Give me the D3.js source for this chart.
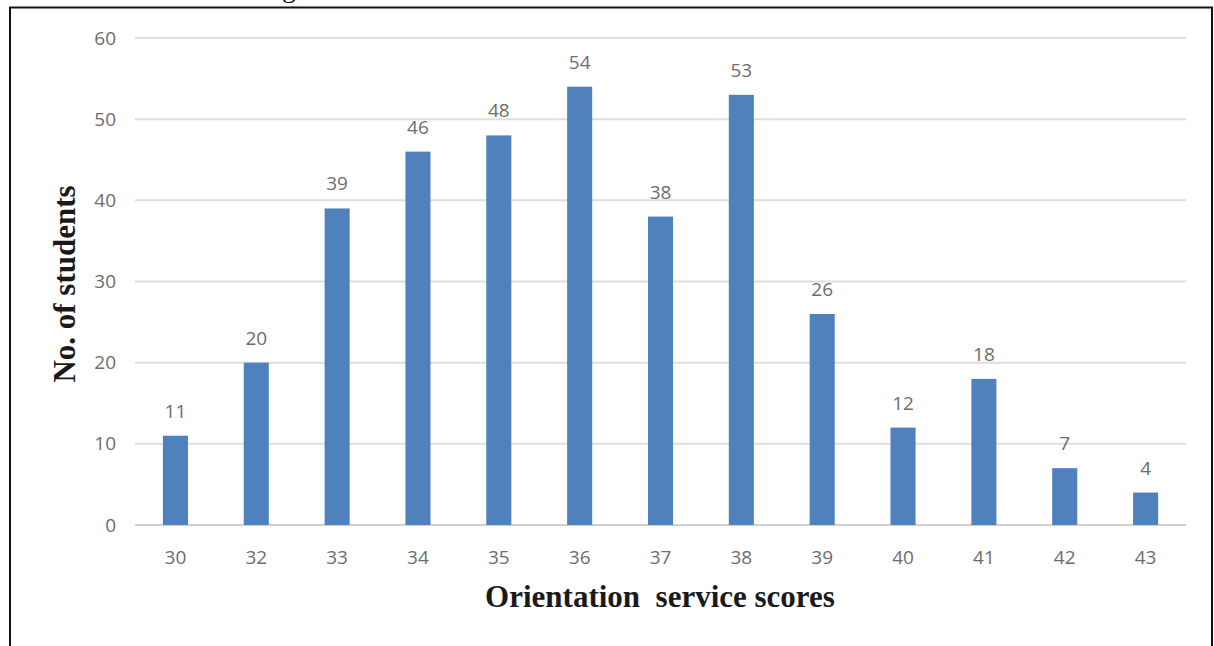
<!DOCTYPE html>
<html>
<head>
<meta charset="utf-8">
<script src="https://cdn.jsdelivr.net/npm/d3@7"></script>
<style>
  body { margin: 0; background: #fff; }
  svg { display: block; }
</style>
</head>
<body>
<svg width="1214" height="646"></svg>
<script>
var scores = ["30","32","33","34","35","36","37","38","39","40","41","42","43"];
var students = [11,20,39,46,48,54,38,53,26,12,18,7,4];
var yTicks = [0,10,20,30,40,50,60];

var svg = d3.select("svg");

// frame around the figure (cut at the bottom)
svg.append("path")
    .attr("d", "M10,646 L10,7.5 L1212,7.5 L1212,646")
    .style("fill", "none")
    .style("stroke", "#111")
    .style("stroke-width", 2);

// bit of caption text cut by the crop
svg.append("text")
    .attr("x", 282)
    .attr("y", -3)
    .attr("font-family", "Liberation Serif, serif")
    .attr("font-size", "28px")
    .attr("fill", "#111")
    .text("g");

var plotLeft = 135, plotRight = 1186, plotTop = 38, plotBottom = 525;
var tickFont = "'Open Sans', sans-serif";
var titleFont = "'Liberation Serif', serif";

var x = d3.scaleBand().domain(scores).range([plotLeft, plotRight]).paddingInner(0.69).paddingOuter(0.345);
var y = d3.scaleLinear().domain([0, 60]).range([plotBottom, plotTop]);

var g = svg.append("g");

// gridlines
g.append("g")
    .selectAll("line")
    .data(yTicks)
    .enter()
    .append("line")
    .attr("x1", plotLeft)
    .attr("x2", plotRight)
    .attr("y1", function(d){ return y(d); })
    .attr("y2", function(d){ return y(d); })
    .style("stroke", function(d){ return d === 0 ? "#d0d0d0" : "#dedede"; })
    .style("stroke-width", 2);

// y tick labels
g.append("g")
    .selectAll("text")
    .data(yTicks)
    .enter()
    .append("text")
    .attr("x", 116)
    .attr("y", function(d){ return y(d); })
    .attr("dy", "0.35em")
    .attr("text-anchor", "end")
    .attr("font-family", tickFont)
    .attr("font-size", "19px")
    .attr("fill", "#6d6d6d")
    .text(function(d){ return d; });

// x tick labels
g.append("g")
    .selectAll("text")
    .data(scores)
    .enter()
    .append("text")
    .attr("x", function(d){ return x(d) + x.bandwidth()/2; })
    .attr("y", 564)
    .attr("text-anchor", "middle")
    .attr("font-family", tickFont)
    .attr("font-size", "19px")
    .attr("fill", "#6d6d6d")
    .text(function(d){ return d; });

// bars
g.append("g")
    .selectAll("rect")
    .data(students)
    .enter()
    .append("rect")
    .attr("x", function(d, i){ return x(scores[i]); })
    .attr("y", function(d){ return y(d); })
    .attr("width", x.bandwidth())
    .attr("height", function(d){ return plotBottom - y(d); })
    .style("fill", "#4f81bd");

// value labels
g.append("g")
    .selectAll("text")
    .data(students)
    .enter()
    .append("text")
    .attr("x", function(d, i){ return x(scores[i]) + x.bandwidth()/2; })
    .attr("y", function(d){ return y(d) - 18; })
    .attr("text-anchor", "middle")
    .attr("font-family", tickFont)
    .attr("font-size", "19px")
    .attr("fill", "#6d6d6d")
    .text(function(d){ return d; });

// axis titles
svg.append("text")
    .attr("x", 660)
    .attr("y", 607)
    .attr("text-anchor", "middle")
    .attr("font-family", titleFont)
    .attr("font-size", "31px")
    .attr("font-weight", "bold")
    .attr("fill", "#1a1a1a")
    .attr("xml:space", "preserve")
    .text("Orientation  service scores");

svg.append("text")
    .attr("transform", "translate(75,284) rotate(-90)")
    .attr("text-anchor", "middle")
    .attr("font-family", titleFont)
    .attr("font-size", "31px")
    .attr("font-weight", "bold")
    .attr("fill", "#1a1a1a")
    .text("No. of students");
</script>
</body>
</html>
